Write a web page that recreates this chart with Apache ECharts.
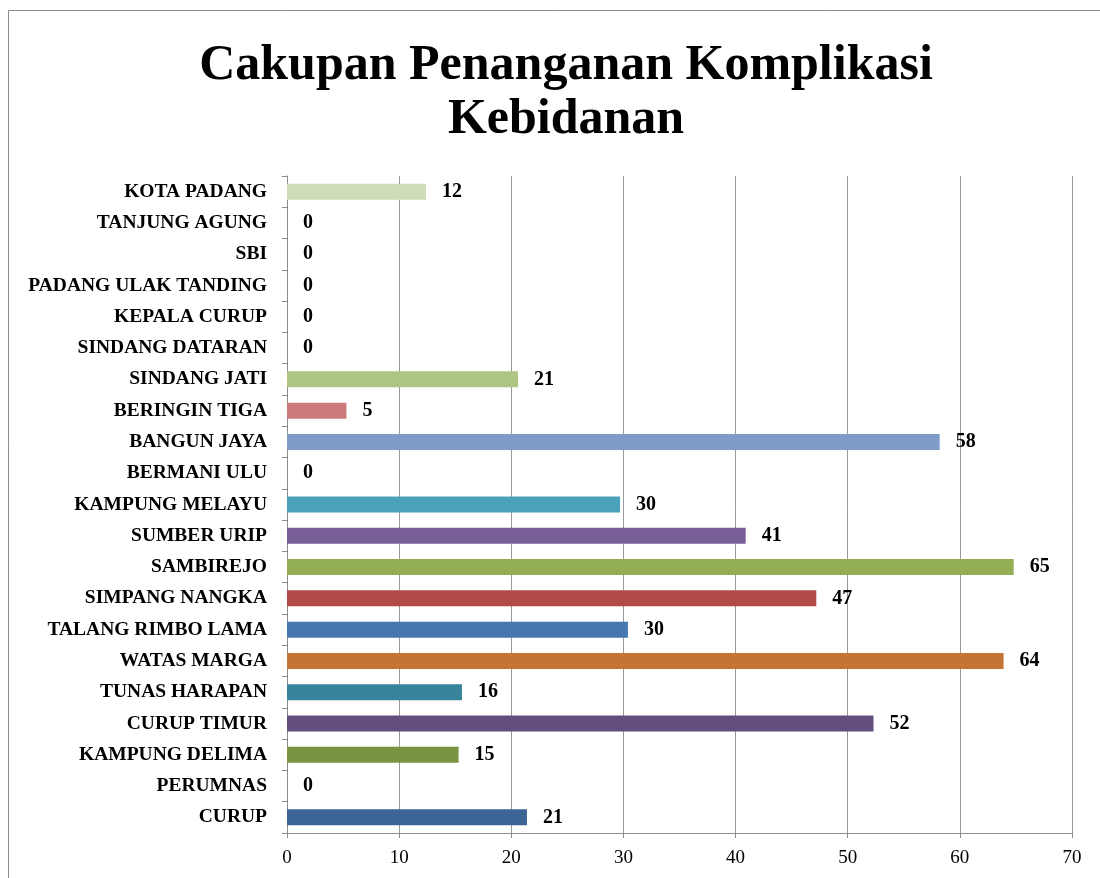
<!DOCTYPE html>
<html>
<head>
<meta charset="utf-8">
<script src="https://cdn.jsdelivr.net/npm/echarts@6/dist/echarts.min.js"></script>
<style>
  html, body { margin: 0; padding: 0; background: #fff; }
  #main { width: 1100px; height: 878px; }
</style>
</head>
<body>
<div id="main"></div>
<script>
// kategori dari bawah ke atas
var categories = ['CURUP', 'PERUMNAS', 'KAMPUNG DELIMA', 'CURUP TIMUR', 'TUNAS HARAPAN',
  'WATAS MARGA', 'TALANG RIMBO LAMA', 'SIMPANG NANGKA', 'SAMBIREJO', 'SUMBER URIP',
  'KAMPUNG MELAYU', 'BERMANI ULU', 'BANGUN JAYA', 'BERINGIN TIGA', 'SINDANG JATI',
  'SINDANG DATARAN', 'KEPALA CURUP', 'PADANG ULAK TANDING', 'SBI', 'TANJUNG AGUNG', 'KOTA PADANG'];
var values = [21.4, 0, 15.3, 52.3, 15.6, 63.9, 30.4, 47.2, 64.8, 40.9,
  29.7, 0, 58.2, 5.3, 20.6, 0, 0, 0, 0, 0, 12.4];
var barColors = ['#3c6496', '#9bbb59', '#7a9342', '#634e7e', '#38849a',
  '#c47535', '#4677af', '#b24a48', '#93ae54', '#775e97',
  '#4aa2ba', '#f79646', '#7f9bc8', '#cb7b7a', '#aec584',
  '#a18fb8', '#76bdd1', '#f9b47f', '#95b3d7', '#d99694', '#cedcb8'];
var xTicks = [0, 10, 20, 30, 40, 50, 60, 70];

var chart = echarts.init(document.getElementById('main'));
var serif = '"Liberation Serif", "DejaVu Serif", serif';

var option = {
  backgroundColor: '#fff',
  animation: false,
  title: {
    text: 'Cakupan Penanganan Komplikasi\nKebidanan',
    left: 561,
    top: 34,
    textAlign: 'center',
    textStyle: {
      fontFamily: serif,
      fontWeight: 'bold',
      fontSize: 50,
      lineHeight: 54,
      color: '#000'
    }
  },
  graphic: [{
    type: 'rect',
    shape: { x: 8.5, y: 10.5, width: 1100, height: 900 },
    style: { fill: 'none', stroke: '#8c8c8c', lineWidth: 1 }
  }],
  grid: { left: 287, right: 28, top: 176, bottom: 45 },
  xAxis: {
    type: 'value',
    min: xTicks[0],
    max: xTicks[xTicks.length - 1],
    interval: 10,
    axisLine: { show: true, lineStyle: { color: '#8c8c8c' } },
    axisTick: { show: true, length: 5, lineStyle: { color: '#8c8c8c' } },
    splitLine: { show: true, lineStyle: { color: '#9a9a9a', width: 1 } },
    axisLabel: { fontFamily: serif, fontSize: 19, color: '#000', margin: 16 }
  },
  yAxis: {
    type: 'category',
    data: categories,
    axisLine: { show: true, lineStyle: { color: '#8c8c8c' } },
    axisTick: { show: true, length: 5, lineStyle: { color: '#8c8c8c' } },
    splitLine: { show: false },
    axisLabel: { fontFamily: serif, fontWeight: 'bold', fontSize: 19.5, color: '#000', margin: 20 }
  },
  series: [{
    type: 'bar',
    barWidth: 16,
    data: values.map(function (v, i) {
      return { value: v, itemStyle: { color: barColors[i] } };
    }),
    label: {
      show: true,
      position: 'right',
      distance: 16,
      fontFamily: serif,
      fontWeight: 'bold',
      fontSize: 20,
      color: '#000',
      formatter: function (p) { return Math.round(p.value); }
    }
  }]
};
chart.setOption(option);
</script>
</body>
</html>
